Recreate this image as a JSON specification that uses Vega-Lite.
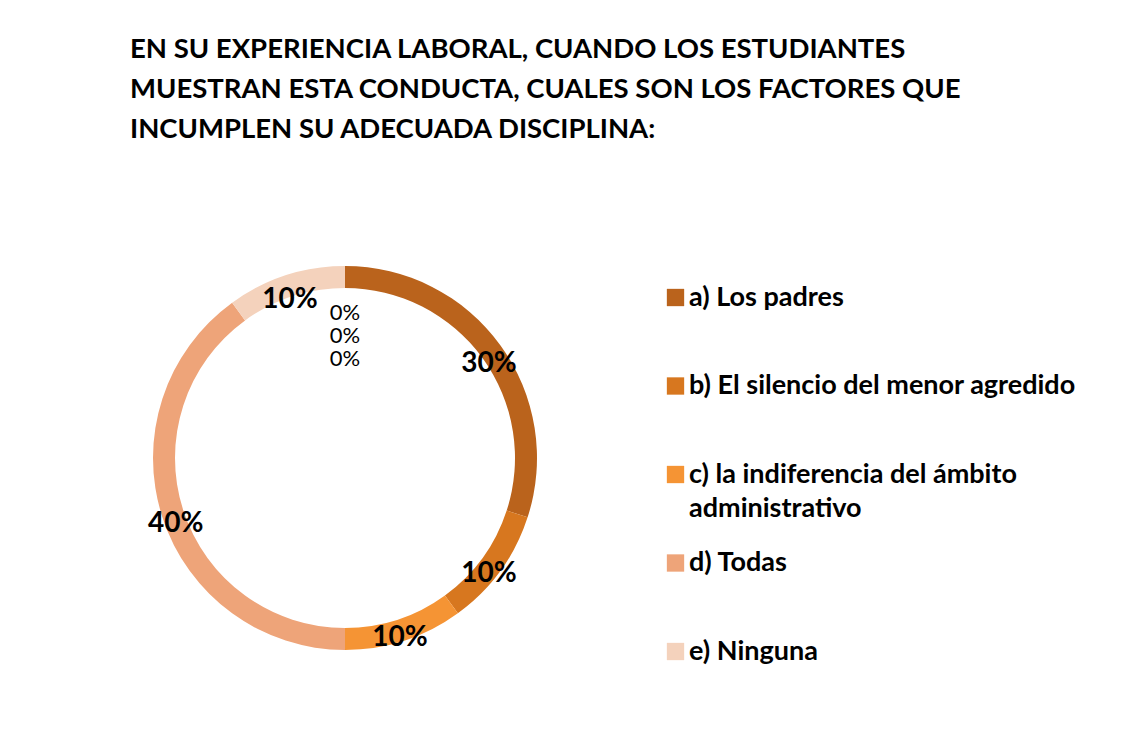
{
  "$schema": "https://vega.github.io/schema/vega-lite/v6.json",
  "width": 690,
  "height": 516,
  "autosize": {"type": "none"},
  "padding": {"left": 0, "top": 200, "right": 439, "bottom": 22},
  "background": "white",
  "config": {"view": {"stroke": null}, "font": "Lato"},
  "title": {
    "text": ["EN SU EXPERIENCIA LABORAL, CUANDO LOS ESTUDIANTES", "MUESTRAN ESTA CONDUCTA, CUALES SON LOS FACTORES QUE", "INCUMPLEN SU ADECUADA DISCIPLINA:"],
    "anchor": "start",
    "dx": 130,
    "fontSize": 27.5,
    "lineHeight": 40,
    "font": "Lato",
    "fontWeight": "bold",
    "color": "black",
    "offset": 57
  },
  "data": {"values": [
    {"cat": "a) Los padres", "share": 0.3},
    {"cat": "b) El silencio del menor agredido", "share": 0.1},
    {"cat": "c) la indiferencia del ámbito administrativo", "share": 0.1},
    {"cat": "d) Todas", "share": 0.4},
    {"cat": "e) Ninguna", "share": 0.1}
  ]},
  "layer": [
    {
      "mark": {"type": "arc", "innerRadius": 170, "outerRadius": 192},
      "encoding": {
        "theta": {"field": "share", "type": "quantitative", "stack": true},
        "order": {"field": "cat", "sort": "ascending"},
        "color": {
          "field": "cat", "type": "nominal",
          "scale": {"range": ["#BA631C", "#D7771F", "#F59434", "#EEA479", "#F4D2BC"]},
          "legend": {
            "title": null, "orient": "none", "legendX": 662, "legendY": 84,
            "symbolType": "square", "symbolSize": 300, "symbolStrokeWidth": 0,
            "labelFontSize": 27, "labelFont": "Lato", "labelFontWeight": "bold", "labelColor": "black",
            "labelLimit": 600, "rowPadding": 26.5, "labelOffset": 0, "gridAlign": "all",
            "labelExpr": "datum.label == 'c) la indiferencia del ámbito administrativo' ? ['c) la indiferencia del ámbito', 'administrativo'] : datum.label",
            "encode": {"labels": {"update": {"lineHeight": {"value": 34}}}}
          }
        }
      }
    },
    {
      "mark": {"type": "text", "radius": 178, "dy": 11, "fontSize": 28, "fontWeight": "bold", "font": "Lato", "color": "black"},
      "encoding": {
        "theta": {"field": "share", "type": "quantitative", "stack": true},
        "order": {"field": "cat", "sort": "ascending"},
        "detail": {"field": "cat", "type": "nominal"},
        "text": {"field": "share", "type": "quantitative", "format": ".0%"}
      }
    },
    {
      "data": {"values": [{"t": "0%\n0%\n0%"}]},
      "mark": {"type": "text", "theta": 0, "radius": 145, "fontSize": 22, "lineHeight": 23, "lineBreak": "\n", "font": "Lato", "color": "black", "baseline": "middle"},
      "encoding": {"text": {"field": "t", "type": "nominal"}}
    }
  ]
}
